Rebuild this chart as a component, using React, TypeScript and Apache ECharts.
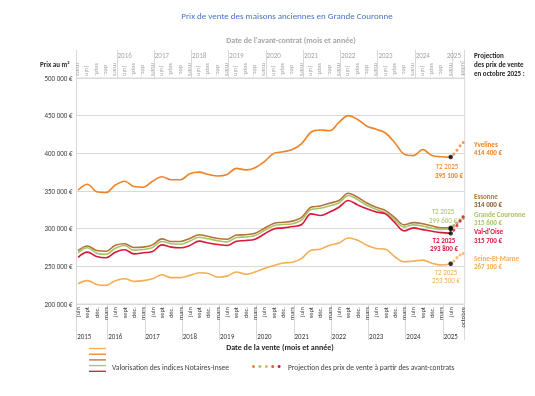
import React, { useEffect, useRef } from 'react';
import * as echarts from 'echarts';

const FONT = 'Carlito, Lato, sans-serif';
const MONTH_COUNT = 125;
const FIRST_YEAR = 2015;
const SALE_START_MONTH = 5; // juin
const CONTRACT_START_MONTH = 2; // mars

const BOTTOM_MONTH_LABELS: Record<number, string> = { 2: 'mars', 5: 'juin', 8: 'sept', 11: 'déc.' };
const TOP_MONTH_LABELS: Record<number, string> = { 2: 'mars', 5: 'juin', 8: 'sept.', 11: 'déc.' };
const LAST_SALE_LABEL = 'octobre';
const LAST_CONTRACT_LABEL = 'juillet';
const LAST_QUARTER_INDEX = 120;

// Quarterly values (juin 2015 ... juin 2025), € / m²
const YVELINES = [351000, 359000, 349000, 348000, 358000, 363000, 356000, 355000, 363000, 369000, 365000, 365000, 373000, 375000, 372000, 370000, 372000, 380000, 378000, 381000, 389000, 400000, 402000, 405000, 413000, 428000, 431000, 430000, 441000, 450000, 445000, 436000, 432000, 427000, 414000, 399000, 397000, 405000, 397000, 395500, 395100];
const ESSONNE = [271000, 277000, 271000, 270000, 278000, 280000, 275000, 275500, 278500, 286500, 283000, 283000, 287000, 292000, 289500, 287000, 286000, 291500, 292000, 294000, 300500, 307000, 308500, 310000, 315000, 328500, 330000, 333800, 337300, 347000, 341700, 334000, 328500, 324000, 314500, 305000, 308000, 306600, 303500, 301000, 301300];
const GRANDE_COURONNE = [268000, 274600, 267500, 266000, 274000, 277700, 271500, 272400, 275000, 283000, 280000, 279400, 283500, 288700, 286500, 284000, 282500, 288200, 289000, 291000, 297500, 304000, 305500, 306600, 311500, 325500, 327000, 330500, 334000, 344000, 338500, 331000, 325500, 321000, 311500, 302000, 305000, 303500, 300600, 299000, 299600];
const VAL_D_OISE = [262000, 268800, 263000, 261300, 268800, 272000, 266600, 268000, 269700, 278500, 275500, 274600, 277700, 283400, 281000, 279000, 277700, 283400, 284300, 286000, 293000, 299700, 301000, 302800, 305500, 319700, 317500, 322000, 328500, 337300, 331600, 326300, 322000, 319700, 308000, 297000, 301000, 298700, 296500, 294700, 293800];
const SEINE_ET_MARNE = [227000, 231000, 226000, 224700, 231000, 233500, 230000, 231000, 233500, 238800, 235000, 235000, 238000, 241500, 240500, 235500, 237000, 242500, 239500, 242500, 247000, 251000, 254500, 255500, 260500, 271500, 272800, 278000, 281000, 287600, 284600, 278000, 273700, 272800, 262700, 256000, 257000, 258300, 254000, 251800, 253500];

// Projection juillet -> octobre 2025
const PROJ_YVELINES = [399000, 404000, 410000, 414400];
const PROJ_ESSONNE = [304000, 307500, 311000, 314000];
const PROJ_GRANDE_COURONNE = [303000, 307000, 311500, 315600];
const PROJ_VAL_D_OISE = [298000, 304000, 310000, 315700];
const PROJ_SEINE_ET_MARNE = [257000, 261500, 265000, 267100];

const C_YVELINES = '#EE8227';
const C_ESSONNE = '#B3743A';
const C_GC = '#A8C466';
const C_VDO = '#D8173D';
const C_SEM = '#F5AE52';

function monthOf(start: number, i: number) { return (start + i) % 12; }
function yearOf(start: number, i: number) { return FIRST_YEAR + Math.floor((start + i) / 12); }

const saleKeys = Array.from({ length: MONTH_COUNT }, (_, i) => `s${yearOf(SALE_START_MONTH, i)}-${monthOf(SALE_START_MONTH, i)}`);
const contractKeys = Array.from({ length: MONTH_COUNT }, (_, i) => `c${yearOf(CONTRACT_START_MONTH, i)}-${monthOf(CONTRACT_START_MONTH, i)}`);

const saleMonthLabel = (i: number) => i === MONTH_COUNT - 1 ? LAST_SALE_LABEL : (i <= LAST_QUARTER_INDEX ? (BOTTOM_MONTH_LABELS[monthOf(SALE_START_MONTH, i)] || '') : '');
const contractMonthLabel = (i: number) => i === MONTH_COUNT - 1 ? LAST_CONTRACT_LABEL : (i <= LAST_QUARTER_INDEX ? (TOP_MONTH_LABELS[monthOf(CONTRACT_START_MONTH, i)] || '') : '');
const saleYearLabel = (i: number) => {
  if (i === 2) return String(FIRST_YEAR);
  const y = yearOf(SALE_START_MONTH, i);
  return monthOf(SALE_START_MONTH, i) === 5 && y > FIRST_YEAR ? String(y) : '';
};
const contractYearLabel = (i: number) => {
  const y = yearOf(CONTRACT_START_MONTH, i);
  if (y === 2025) return i === 121 ? '2025' : '';
  return monthOf(CONTRACT_START_MONTH, i) === 5 && y > FIRST_YEAR ? String(y) : '';
};
const saleSeparator = (i: number) => i === 0 || monthOf(SALE_START_MONTH, i) === 3;
const contractSeparator = (i: number) => i === 0 || (i > 12 && monthOf(CONTRACT_START_MONTH, i) === 3);

const toQuarterly = (arr: number[]) => arr.map((v, q) => [q * 3, v]);
const toProj = (arr: number[]) => arr.map((v, k) => [LAST_QUARTER_INDEX + 1 + k, v]);

const txt = (text: string, x: number, y: number, fill: string, opts: any = {}) => ({
  type: 'text', x, y, silent: true,
  style: { text, fill, fontSize: opts.size || 7, fontWeight: opts.bold ? 'bold' : 'normal', fontFamily: FONT, align: opts.align || 'left', verticalAlign: 'middle' },
});

export default function App() {
  const ref = useRef<HTMLDivElement>(null);
  useEffect(() => {
    const chart = echarts.init(ref.current!, undefined, { renderer: 'svg' });
    const lineSeries = (name: string, data: number[], color: string, z: number) => ({
      name, type: 'line', xAxisIndex: 0, yAxisIndex: 0, data: toQuarterly(data), showSymbol: false, smooth: 0.35,
      lineStyle: { color, width: 1.6 }, itemStyle: { color }, z,
    });
    const projSeries = (name: string, data: number[], color: string) => ({
      name, type: 'scatter', xAxisIndex: 0, yAxisIndex: 0, data: toProj(data), symbolSize: 3, itemStyle: { color }, z: 5,
    });
    const legendLines = [C_SEM, C_YVELINES, C_ESSONNE, C_GC, C_VDO].map((c, k) => ({
      type: 'line', silent: true, shape: { x1: 89, y1: 348.5 + k * 5.7, x2: 106, y2: 348.5 + k * 5.7 }, style: { stroke: c, lineWidth: 1.3 },
    }));
    const legendDots = [C_YVELINES, C_GC, C_SEM, C_ESSONNE, C_VDO].map((c, k) => ({
      type: 'circle', silent: true, shape: { cx: 253.5 + k * 6.4, cy: 366.5, r: 1.5 }, style: { fill: c },
    }));
    chart.setOption({
      animation: false,
      textStyle: { fontFamily: FONT },
      grid: { left: 76.5, right: 70.3, top: 78, bottom: 92, show: true, borderColor: '#D9D9D9', borderWidth: 1 },
      xAxis: [
        {
          type: 'category', data: saleKeys, position: 'bottom', boundaryGap: true,
          axisLine: { show: false }, axisTick: { show: false }, splitLine: { show: false },
          axisLabel: { interval: 0, rotate: 90, margin: 3, fontSize: 6.5, color: '#404040', formatter: (_v: string, i: number) => saleMonthLabel(i) },
        },
        {
          type: 'category', data: saleKeys, position: 'bottom', boundaryGap: true,
          axisLine: { show: false }, splitLine: { show: false },
          axisTick: { show: true, interval: (i: number) => saleSeparator(i), length: 36, lineStyle: { color: '#D9D9D9' } },
          axisLabel: { interval: 0, margin: 28.5, fontSize: 7, color: '#404040', formatter: (_v: string, i: number) => saleYearLabel(i) },
        },
        {
          type: 'category', data: contractKeys, position: 'top', boundaryGap: true,
          axisLine: { show: false }, axisTick: { show: false }, splitLine: { show: false },
          axisLabel: { interval: 0, rotate: 90, margin: 2, fontSize: 6.5, color: '#A6A6A6', formatter: (_v: string, i: number) => contractMonthLabel(i) },
        },
        {
          type: 'category', data: contractKeys, position: 'top', boundaryGap: true,
          axisLine: { show: false }, splitLine: { show: false },
          axisTick: { show: true, interval: (i: number) => contractSeparator(i), length: 28, lineStyle: { color: '#D9D9D9' } },
          axisLabel: { interval: 0, margin: 19, fontSize: 7, color: '#A6A6A6', formatter: (_v: string, i: number) => contractYearLabel(i) },
        },
      ],
      yAxis: {
        type: 'value', min: 200000, max: 500000, interval: 50000,
        axisLine: { show: false }, axisTick: { show: false },
        splitLine: { lineStyle: { color: '#D9D9D9', width: 1 } },
        axisLabel: { fontSize: 7, color: '#404040', margin: 4, formatter: (v: number) => `${Math.round(v / 1000)} 000 €` },
      },
      series: [
        lineSeries('Seine-Et-Marne', SEINE_ET_MARNE, C_SEM, 2),
        lineSeries('Yvelines', YVELINES, C_YVELINES, 2),
        lineSeries('Essonne', ESSONNE, C_ESSONNE, 2),
        lineSeries('Grande Couronne', GRANDE_COURONNE, C_GC, 3),
        lineSeries("Val-d'Oise", VAL_D_OISE, C_VDO, 4),
        projSeries('p-sem', PROJ_SEINE_ET_MARNE, C_SEM),
        projSeries('p-yve', PROJ_YVELINES, C_YVELINES),
        projSeries('p-ess', PROJ_ESSONNE, C_ESSONNE),
        projSeries('p-gc', PROJ_GRANDE_COURONNE, C_GC),
        projSeries('p-vdo', PROJ_VAL_D_OISE, C_VDO),
        {
          name: 'T2 2025', type: 'scatter', xAxisIndex: 0, yAxisIndex: 0, symbolSize: 4.5, itemStyle: { color: '#000' }, z: 6,
          data: [YVELINES, ESSONNE, GRANDE_COURONNE, VAL_D_OISE, SEINE_ET_MARNE].map((a) => [LAST_QUARTER_INDEX, a[a.length - 1]]),
        },
      ],
      graphic: [
        txt('Prix de vente des maisons anciennes en Grande Couronne', 287, 15, '#4472C4', { size: 9, align: 'center' }),
        txt("Date de l'avant-contrat (mois et année)", 291, 40, '#A6A6A6', { size: 8, bold: true, align: 'center' }),
        txt('Prix au m²', 40, 64, '#262626', { size: 7, bold: true }),
        txt('Projection', 474, 55, '#262626', { size: 7, bold: true }),
        txt('des prix de vente', 474, 64, '#262626', { size: 7, bold: true }),
        txt('en octobre 2025 :', 474, 73, '#262626', { size: 7, bold: true }),
        txt('Yvelines', 474, 144, C_YVELINES, { bold: true }),
        txt('414 400 €', 474, 152.5, C_YVELINES, { bold: true }),
        txt('T2 2025', 447, 166, C_YVELINES, { align: 'center' }),
        txt('395 100 €', 449, 175, C_YVELINES, { bold: true, align: 'center' }),
        txt('Essonne', 474, 196, C_ESSONNE, { bold: true }),
        txt('314 000 €', 474, 204.7, '#8C5A2B', { bold: true }),
        txt('Grande Couronne', 474, 214, C_GC, { bold: true }),
        txt('315 600 €', 474, 222.5, C_GC, { bold: true }),
        txt("Val-d'Oise", 474, 231.7, C_VDO, { bold: true }),
        txt('315 700 €', 474, 240.3, C_VDO, { bold: true }),
        txt('Seine-Et-Marne', 474, 258.3, C_SEM, { bold: true }),
        txt('267 100 €', 474, 266.7, C_SEM, { bold: true }),
        txt('T2 2025', 443, 211.7, C_GC, { align: 'center' }),
        txt('299 600 €', 443, 220.2, C_GC, { align: 'center' }),
        txt('T2 2025', 444, 240, C_VDO, { bold: true, align: 'center' }),
        txt('293 800 €', 444, 248.7, C_VDO, { bold: true, align: 'center' }),
        txt('T2 2025', 446, 272.3, C_SEM, { align: 'center' }),
        txt('253 500 €', 446, 280.5, C_SEM, { align: 'center' }),
        txt('Date de la vente (mois et année)', 280, 347, '#262626', { size: 8, bold: true, align: 'center' }),
        ...legendLines,
        txt('Valorisation des indices Notaires-Insee', 112, 367.5, '#404040', { size: 7.5 }),
        ...legendDots,
        txt('Projection des prix de vente à partir des avant-contrats', 288, 367, '#404040', { size: 7.5 }),
      ],
    });
    return () => chart.dispose();
  }, []);
  return <div ref={ref} style={{ position: 'fixed', left: 0, top: 0, width: 535, height: 396 }} />;
}
